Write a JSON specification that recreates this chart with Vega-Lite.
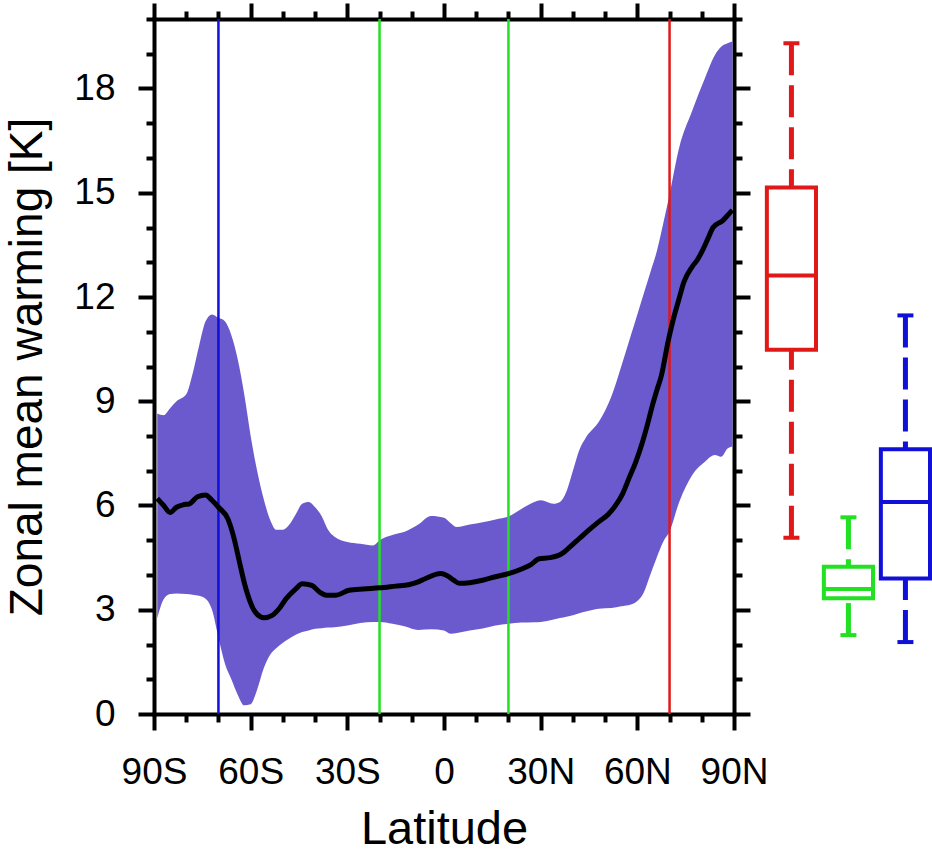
{
  "$schema": "https://vega.github.io/schema/vega-lite/v6.json",
  "padding": {"left": 4, "top": 0, "right": 0, "bottom": 0},
  "spacing": 21,
  "bounds": "flush",
  "datasets": {
    "band": [
      {"lat": -89, "lower": 2.75, "upper": 8.65},
      {"lat": -87, "lower": 3.3, "upper": 8.6},
      {"lat": -85, "lower": 3.45, "upper": 8.8},
      {"lat": -83, "lower": 3.47, "upper": 9.0},
      {"lat": -80, "lower": 3.45, "upper": 9.2},
      {"lat": -78, "lower": 3.43, "upper": 9.8},
      {"lat": -76, "lower": 3.4, "upper": 10.6},
      {"lat": -74, "lower": 3.32, "upper": 11.3},
      {"lat": -72, "lower": 3.0, "upper": 11.5},
      {"lat": -70, "lower": 2.2, "upper": 11.4},
      {"lat": -68, "lower": 1.45, "upper": 11.3},
      {"lat": -66, "lower": 1.0, "upper": 10.9},
      {"lat": -64, "lower": 0.55, "upper": 10.2},
      {"lat": -62, "lower": 0.25, "upper": 9.2},
      {"lat": -60, "lower": 0.28, "upper": 8.0},
      {"lat": -58, "lower": 0.7, "upper": 7.0},
      {"lat": -56, "lower": 1.3, "upper": 6.2},
      {"lat": -54, "lower": 1.7, "upper": 5.6},
      {"lat": -52, "lower": 1.9, "upper": 5.3},
      {"lat": -50, "lower": 2.05, "upper": 5.3},
      {"lat": -48, "lower": 2.17, "upper": 5.45},
      {"lat": -46, "lower": 2.28, "upper": 5.75},
      {"lat": -44, "lower": 2.36, "upper": 6.05},
      {"lat": -42, "lower": 2.4, "upper": 6.1},
      {"lat": -40, "lower": 2.45, "upper": 5.95},
      {"lat": -38, "lower": 2.47, "upper": 5.7},
      {"lat": -36, "lower": 2.49, "upper": 5.3},
      {"lat": -34, "lower": 2.5, "upper": 5.1},
      {"lat": -30, "lower": 2.55, "upper": 4.95},
      {"lat": -26, "lower": 2.62, "upper": 4.9},
      {"lat": -22, "lower": 2.65, "upper": 4.85},
      {"lat": -20, "lower": 2.65, "upper": 5.0},
      {"lat": -16, "lower": 2.6, "upper": 5.15},
      {"lat": -12, "lower": 2.52, "upper": 5.25},
      {"lat": -8, "lower": 2.42, "upper": 5.45},
      {"lat": -4, "lower": 2.44, "upper": 5.7},
      {"lat": 0, "lower": 2.4, "upper": 5.65},
      {"lat": 2, "lower": 2.31, "upper": 5.5},
      {"lat": 4, "lower": 2.33, "upper": 5.38},
      {"lat": 8, "lower": 2.4, "upper": 5.45},
      {"lat": 12, "lower": 2.46, "upper": 5.52},
      {"lat": 16, "lower": 2.55, "upper": 5.6},
      {"lat": 20, "lower": 2.6, "upper": 5.68},
      {"lat": 24, "lower": 2.63, "upper": 5.9},
      {"lat": 28, "lower": 2.64, "upper": 6.1},
      {"lat": 30, "lower": 2.65, "upper": 6.15},
      {"lat": 34, "lower": 2.72, "upper": 6.05},
      {"lat": 36, "lower": 2.76, "upper": 6.1},
      {"lat": 38, "lower": 2.8, "upper": 6.4},
      {"lat": 40, "lower": 2.84, "upper": 7.0},
      {"lat": 42, "lower": 2.9, "upper": 7.6},
      {"lat": 44, "lower": 2.95, "upper": 7.95},
      {"lat": 48, "lower": 3.03, "upper": 8.4},
      {"lat": 52, "lower": 3.05, "upper": 9.15},
      {"lat": 55, "lower": 3.1, "upper": 10.0},
      {"lat": 58, "lower": 3.15, "upper": 10.9},
      {"lat": 60, "lower": 3.25, "upper": 11.5},
      {"lat": 62, "lower": 3.5, "upper": 12.1},
      {"lat": 64, "lower": 4.0, "upper": 12.7},
      {"lat": 66, "lower": 4.5, "upper": 13.3},
      {"lat": 68, "lower": 4.95, "upper": 14.1},
      {"lat": 70, "lower": 5.25, "upper": 14.95},
      {"lat": 73, "lower": 6.1, "upper": 16.3},
      {"lat": 77, "lower": 6.87, "upper": 17.35},
      {"lat": 81, "lower": 7.26, "upper": 18.3},
      {"lat": 84, "lower": 7.45, "upper": 18.95},
      {"lat": 86, "lower": 7.4, "upper": 19.2},
      {"lat": 88, "lower": 7.64, "upper": 19.3},
      {"lat": 89.5, "lower": 7.7, "upper": 19.35}
    ],
    "mean": [
      {"lat": -89, "warming": 6.2},
      {"lat": -87, "warming": 6.0},
      {"lat": -85, "warming": 5.8},
      {"lat": -83, "warming": 5.95},
      {"lat": -81, "warming": 6.02},
      {"lat": -79, "warming": 6.05},
      {"lat": -76.5, "warming": 6.25},
      {"lat": -74, "warming": 6.3},
      {"lat": -72, "warming": 6.15},
      {"lat": -70, "warming": 5.95},
      {"lat": -67, "warming": 5.6},
      {"lat": -65.7, "warming": 5.24},
      {"lat": -64.5, "warming": 4.8},
      {"lat": -63.5, "warming": 4.38},
      {"lat": -61.5, "warming": 3.61},
      {"lat": -59, "warming": 2.99},
      {"lat": -57, "warming": 2.8},
      {"lat": -55.9, "warming": 2.77},
      {"lat": -53.3, "warming": 2.84},
      {"lat": -51, "warming": 3.05},
      {"lat": -49, "warming": 3.32},
      {"lat": -46, "warming": 3.6},
      {"lat": -44, "warming": 3.75},
      {"lat": -41, "warming": 3.7},
      {"lat": -38.5, "warming": 3.5},
      {"lat": -36.5, "warming": 3.42},
      {"lat": -33.5, "warming": 3.42},
      {"lat": -29.5, "warming": 3.56},
      {"lat": -25, "warming": 3.6},
      {"lat": -20, "warming": 3.63},
      {"lat": -15, "warming": 3.68},
      {"lat": -11, "warming": 3.72},
      {"lat": -8, "warming": 3.8},
      {"lat": -5.7, "warming": 3.9},
      {"lat": -1, "warming": 4.04},
      {"lat": 1, "warming": 3.98},
      {"lat": 3, "warming": 3.85},
      {"lat": 4.7, "warming": 3.76},
      {"lat": 8, "warming": 3.78},
      {"lat": 12, "warming": 3.85},
      {"lat": 16, "warming": 3.95},
      {"lat": 20, "warming": 4.04},
      {"lat": 24.3, "warming": 4.18},
      {"lat": 27, "warming": 4.3},
      {"lat": 29.5, "warming": 4.47},
      {"lat": 33, "warming": 4.5},
      {"lat": 36.7, "warming": 4.62},
      {"lat": 39, "warming": 4.8},
      {"lat": 42, "warming": 5.05},
      {"lat": 45, "warming": 5.3},
      {"lat": 48, "warming": 5.53},
      {"lat": 51, "warming": 5.75},
      {"lat": 53.3, "warming": 6.01},
      {"lat": 55.5, "warming": 6.35},
      {"lat": 57.4, "warming": 6.78},
      {"lat": 59.5, "warming": 7.25},
      {"lat": 61.6, "warming": 7.83},
      {"lat": 63.2, "warming": 8.35},
      {"lat": 64.7, "warming": 8.89},
      {"lat": 66, "warming": 9.3},
      {"lat": 67.5, "warming": 9.75},
      {"lat": 69.5, "warming": 10.7},
      {"lat": 71, "warming": 11.3},
      {"lat": 72.8, "warming": 11.9},
      {"lat": 74.5, "warming": 12.44},
      {"lat": 77, "warming": 12.87},
      {"lat": 78.5, "warming": 13.05},
      {"lat": 80, "warming": 13.3},
      {"lat": 82, "warming": 13.7},
      {"lat": 83.5, "warming": 14.0},
      {"lat": 86.5, "warming": 14.2},
      {"lat": 88.5, "warming": 14.4},
      {"lat": 89.5, "warming": 14.5}
    ],
    "bounds": [
      {"lat": -70, "region": "Antarctic"},
      {"lat": -20, "region": "Tropics"},
      {"lat": 20, "region": "Tropics"},
      {"lat": 70, "region": "Arctic"}
    ],
    "boxes": [
      {"region": "Arctic", "low": 5.07, "q1": 10.48, "median": 12.62, "q3": 15.15, "high": 19.3},
      {"region": "Tropics", "low": 2.27, "q1": 3.33, "median": 3.6, "q3": 4.24, "high": 5.66},
      {"region": "Antarctic", "low": 2.07, "q1": 3.9, "median": 6.1, "q3": 7.62, "high": 11.47}
    ]
  },
  "hconcat": [
    {
      "width": 580,
      "height": 695,
      "layer": [
        {
          "data": {"name": "band"},
          "mark": {"type": "area", "color": "#6a5acd", "opacity": 1, "interpolate": "monotone"},
          "encoding": {
            "x": {
              "field": "lat", "type": "quantitative",
              "scale": {"domain": [-90, 90], "nice": false, "zero": false},
              "axis": {
                "orient": "bottom",
                "values": [-90, -80, -70, -60, -50, -40, -30, -20, -10, 0, 10, 20, 30, 40, 50, 60, 70, 80, 90],
                "tickSize": {"condition": {"test": "datum.value % 30 === 0", "value": 16}, "value": 8},
                "labelExpr": "datum.value % 30 !== 0 ? '' : datum.value < 0 ? (-datum.value) + 'S' : datum.value > 0 ? datum.value + 'N' : '0'",
                "labelPadding": 24,
                "title": "Latitude",
                "titlePadding": 16
              }
            },
            "y": {
              "field": "upper", "type": "quantitative",
              "scale": {"domain": [0, 20], "nice": false},
              "axis": {
                "orient": "left",
                "values": [0, 1, 2, 3, 4, 5, 6, 7, 8, 9, 10, 11, 12, 13, 14, 15, 16, 17, 18, 19, 20],
                "tickSize": {"condition": {"test": "datum.value % 3 === 0", "value": 16}, "value": 8},
                "labelExpr": "datum.value % 3 === 0 ? datum.label : ''",
                "labelPadding": 23,
                "title": "Zonal mean warming [K]",
                "titleFontSize": 46,
                "titlePadding": 22
              }
            },
            "y2": {"field": "lower"}
          }
        },
        {
          "data": {"name": "bounds"},
          "mark": {"type": "rule", "strokeWidth": 2.5},
          "encoding": {
            "x": {"field": "lat", "type": "quantitative", "axis": null},
            "color": {
              "field": "region", "type": "nominal", "legend": null,
              "scale": {"domain": ["Arctic", "Tropics", "Antarctic"], "range": ["#e01818", "#22e022", "#1010d8"]}
            }
          }
        },
        {
          "data": {"name": "mean"},
          "mark": {"type": "line", "color": "black", "strokeWidth": 5, "interpolate": "monotone"},
          "encoding": {
            "x": {
              "field": "lat", "type": "quantitative",
              "axis": {
                "orient": "top",
                "values": [-90, -80, -70, -60, -50, -40, -30, -20, -10, 0, 10, 20, 30, 40, 50, 60, 70, 80, 90],
                "tickSize": {"condition": {"test": "datum.value % 30 === 0", "value": 16}, "value": 8},
                "labels": false,
                "minExtent": 0,
                "title": null
              }
            },
            "y": {
              "field": "warming", "type": "quantitative",
              "axis": {
                "orient": "right",
                "values": [0, 1, 2, 3, 4, 5, 6, 7, 8, 9, 10, 11, 12, 13, 14, 15, 16, 17, 18, 19, 20],
                "tickSize": {"condition": {"test": "datum.value % 3 === 0", "value": 16}, "value": 8},
                "labels": false,
                "minExtent": 0,
                "title": null
              }
            }
          }
        }
      ],
      "resolve": {"axis": {"x": "independent", "y": "independent"}}
    },
    {
      "width": 175,
      "height": 695,
      "data": {"name": "boxes"},
      "encoding": {
        "x": {
          "field": "region", "type": "nominal", "axis": null,
          "scale": {"domain": ["Arctic", "Tropics", "Antarctic"], "paddingInner": 0.138, "paddingOuter": 0.104, "align": 1}
        },
        "color": {
          "field": "region", "type": "nominal", "legend": null,
          "scale": {"domain": ["Arctic", "Tropics", "Antarctic"], "range": ["#ff0000", "#22ee22", "#0000ff"]}
        }
      },
      "layer": [
        {
          "mark": {"type": "rule", "strokeWidth": 5, "strokeDash": [32, 10]},
          "encoding": {
            "y": {"field": "low", "type": "quantitative", "scale": {"domain": [0, 20], "nice": false}, "axis": null},
            "y2": {"field": "q1"}
          }
        },
        {
          "mark": {"type": "rule", "strokeWidth": 5, "strokeDash": [32, 10]},
          "encoding": {
            "y": {"field": "high", "type": "quantitative"},
            "y2": {"field": "q3"}
          }
        },
        {
          "mark": {"type": "bar", "filled": false, "strokeWidth": 4},
          "encoding": {
            "y": {"field": "q1", "type": "quantitative"},
            "y2": {"field": "q3"}
          }
        },
        {
          "mark": {"type": "tick", "orient": "horizontal", "thickness": 4, "size": 48, "opacity": 1},
          "encoding": {"y": {"field": "median", "type": "quantitative"}}
        },
        {
          "mark": {"type": "tick", "orient": "horizontal", "thickness": 4, "size": 16, "opacity": 1},
          "encoding": {"y": {"field": "low", "type": "quantitative"}}
        },
        {
          "mark": {"type": "tick", "orient": "horizontal", "thickness": 4, "size": 16, "opacity": 1},
          "encoding": {"y": {"field": "high", "type": "quantitative"}}
        }
      ]
    }
  ],
  "config": {
    "view": {"stroke": null},
    "font": "Liberation Sans",
    "axis": {
      "grid": false,
      "domainColor": "black",
      "domainWidth": 4,
      "domainCap": "square",
      "tickColor": "black",
      "tickWidth": 4,
      "labelFont": "Liberation Sans",
      "labelFontSize": 37,
      "labelColor": "black",
      "labelFlush": false,
      "labelOverlap": false,
      "titleFont": "Liberation Sans",
      "titleFontSize": 47,
      "titleFontWeight": "normal",
      "titleColor": "black"
    }
  }
}
